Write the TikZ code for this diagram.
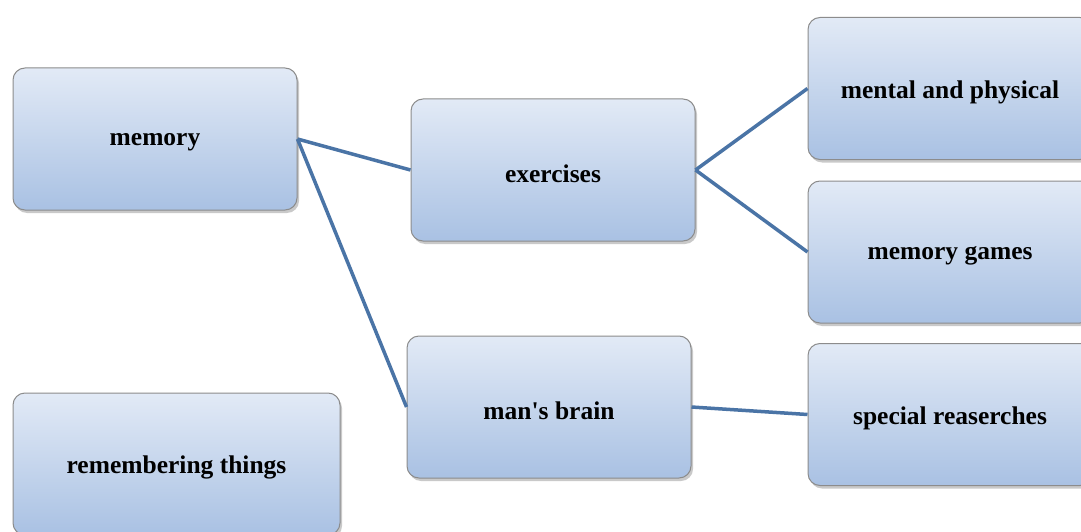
\documentclass[tikz,border=0pt]{standalone}
\usepackage{fontspec}
\setmainfont{Liberation Serif}
\usetikzlibrary{shadows}
\definecolor{boxtop}{HTML}{E2EAF6}
\definecolor{boxbot}{HTML}{A9C1E3}
\definecolor{boxline}{HTML}{8C8C8C}
\definecolor{linkc}{HTML}{4A74A6}
\tikzset{
  boxfont/.style={font=\bfseries\fontsize{25.5}{28}\selectfont, text=black},
  box/.style={draw=boxline, line width=1pt, rounded corners=12pt,
    top color=boxtop, bottom color=boxbot,
    drop shadow={shadow xshift=2pt, shadow yshift=-3pt, opacity=0.35, fill=black!60},
    minimum width=284pt, minimum height=142pt, inner sep=0pt},
  label/.style={boxfont, inner sep=0pt, yshift=-3.5pt},
  link/.style={draw=linkc, line width=3.5pt}
}
\begin{document}
\begin{tikzpicture}[x=1pt,y=-1pt]
\useasboundingbox (0,0) rectangle (1081,532);
\clip (0,0) rectangle (1081,532);
\fill[white] (0,0) rectangle (1081,532);
\node[box] (mem) at (155,139) {};
\node[label] (memt) at (155,139) {memory};
\node[box] (ex) at (553,170) {};
\node[label] (ext) at (553,170) {exercises};
\node[box] (mp) at (950,88.5) {};
\node[label] (mpt) at (950,88.5) {mental and physical};
\node[box] (mg) at (950,252) {};
\node[label] (mgt) at (950,252) {memory games};
\node[box] (mb) at (549,407) {};
\node[label] (mbt) at (549,407) {man\textquotesingle s brain};
\node[box] (sr) at (950,414.5) {};
\node[label] (srt) at (950,414.5) {special reaserches};
\node[box, minimum width=327pt] (rt) at (176.5,464) {};
\node[label] (rtt) at (176.5,464) {remembering things};
\draw[link] (mem.east) -- (ex.west);
\draw[link] (mem.east) -- (mb.west);
\draw[link] (ex.east) -- (mp.west);
\draw[link] (ex.east) -- (mg.west);
\draw[link] (mb.east) -- (sr.west);
\end{tikzpicture}
\end{document}
